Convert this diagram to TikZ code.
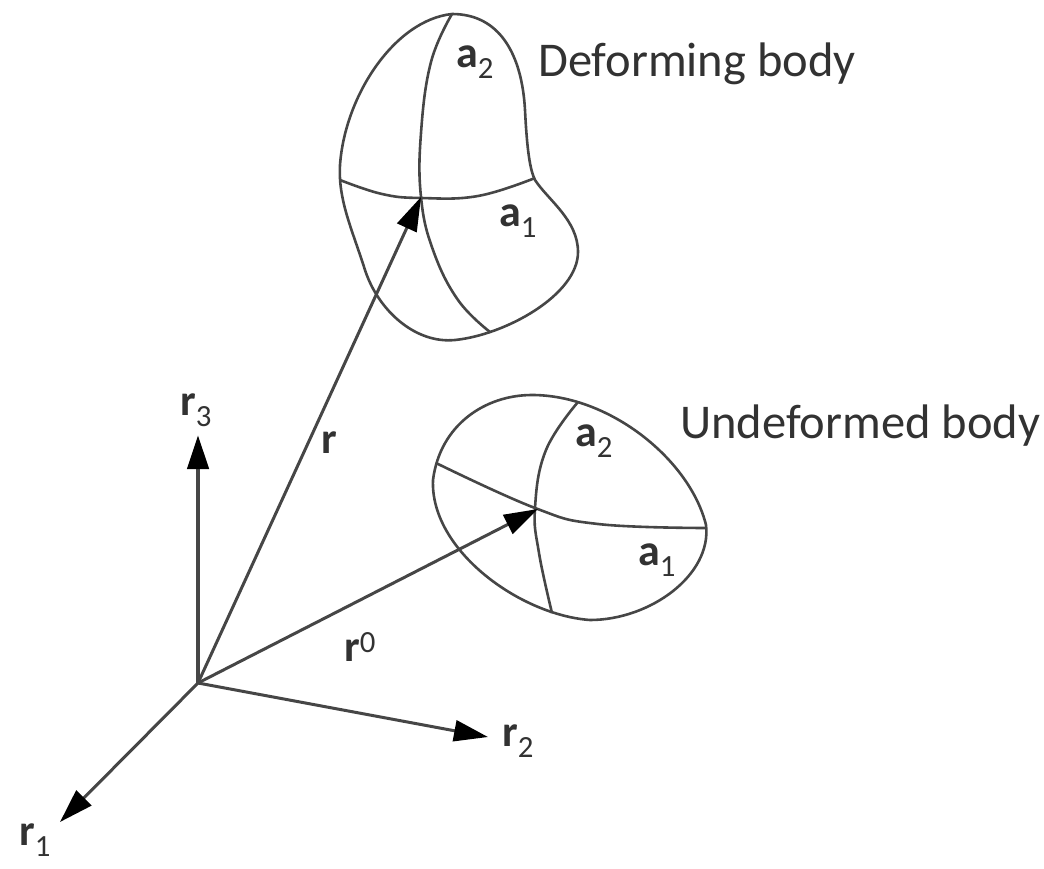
\documentclass[tikz,border=0pt]{standalone}
\usepackage{fontspec}
\setmainfont{Carlito}
\usepackage{tikz}
\usetikzlibrary{arrows.meta,positioning,calc}
\definecolor{inkc}{RGB}{70,70,70}
\definecolor{labc}{RGB}{50,50,50}
\newcommand{\vsym}[2]{{\bfseries #1}\textsubscript{\mdseries #2}}
\begin{document}
\begin{tikzpicture}[
  x=1pt,y=-1pt,
  curve/.style={draw=inkc,line width=2.6pt,line join=round},
  ar/.style={draw=inkc,line width=3pt,-{Triangle[length=34pt,width=21pt,color=black]}},
  lab/.style={text=labc,font=\fontsize{48.5}{52}\selectfont,inner sep=0pt},
  sym/.style={text=labc,font=\fontsize{44}{48}\selectfont,inner sep=0pt}
]
\useasboundingbox (0,0) rectangle (1044,869);
\coordinate (o) at (198,683);
\coordinate (e1) at (60,822);
\coordinate (e2) at (488,737);
\coordinate (e3) at (198,435);
\coordinate (p) at (421,197);
\coordinate (q) at (538,509);
% deforming body
\draw[curve] (452,14) .. controls (500,14) and (522,55) .. (525,110) .. controls (527,150) and (530,170) .. (535,180) .. controls (548,200) and (578,220) .. (578,252) .. controls (578,295) and (505,335) .. (455,340) .. controls (415,344) and (378,310) .. (365,270) .. controls (352,229) and (338,200) .. (340,165) .. controls (345,95) and (395,20) .. (452,14) -- cycle;
\draw[curve] plot[smooth,tension=0.7] coordinates {(452,14) (431,62) (421,133) (421,197) (433,250) (458,300) (490,332)};
\draw[curve] plot[smooth,tension=0.7] coordinates {(340,180) (382,194) (421,198) (478,196) (535,178)};
% undeformed body
\draw[curve] (532,395) .. controls (610,395) and (690,460) .. (706,525) .. controls (712,575) and (650,620) .. (590,620) .. controls (520,615) and (430,550) .. (433,480) .. controls (440,425) and (485,395) .. (532,395) -- cycle;
\draw[curve] plot[smooth,tension=0.7] coordinates {(436,463) (535,508) (598,524) (705,528)};
\draw[curve] plot[smooth,tension=0.7] coordinates {(578,402) (546,450) (535,508) (539,553) (552,613)};
% axes
\draw[ar] (o)--(e1);
\draw[ar] (o)--(e2);
\draw[ar,line width=4.5pt] (o)--(e3);
\draw[ar] (o)--(p);
\draw[ar] (o)--(q);
\node[sym] (l1) at (35,840) {\vsym{r}{1}};
\node[sym] (l2) at (518,741) {\vsym{r}{2}};
\node[sym] (l3) at (196,410) {\vsym{r}{3}};
\node[sym] (lr) at (329,443) {\textbf{r}};
\node[sym] (lr0) at (360,647) {\textbf{r}\textsuperscript{0}};
\node[sym] (a2t) at (475,62) {\vsym{a}{2}};
\node[sym] (a1t) at (518,221) {\vsym{a}{1}};
\node[sym] (a2b) at (594,441) {\vsym{a}{2}};
\node[sym] (a1b) at (657,560) {\vsym{a}{1}};
\node[lab,anchor=base west] (def) at (538,77) {Deforming body};
\node[lab,anchor=base west] (und) at (680,438) {Undeformed body};
\end{tikzpicture}
\end{document}
